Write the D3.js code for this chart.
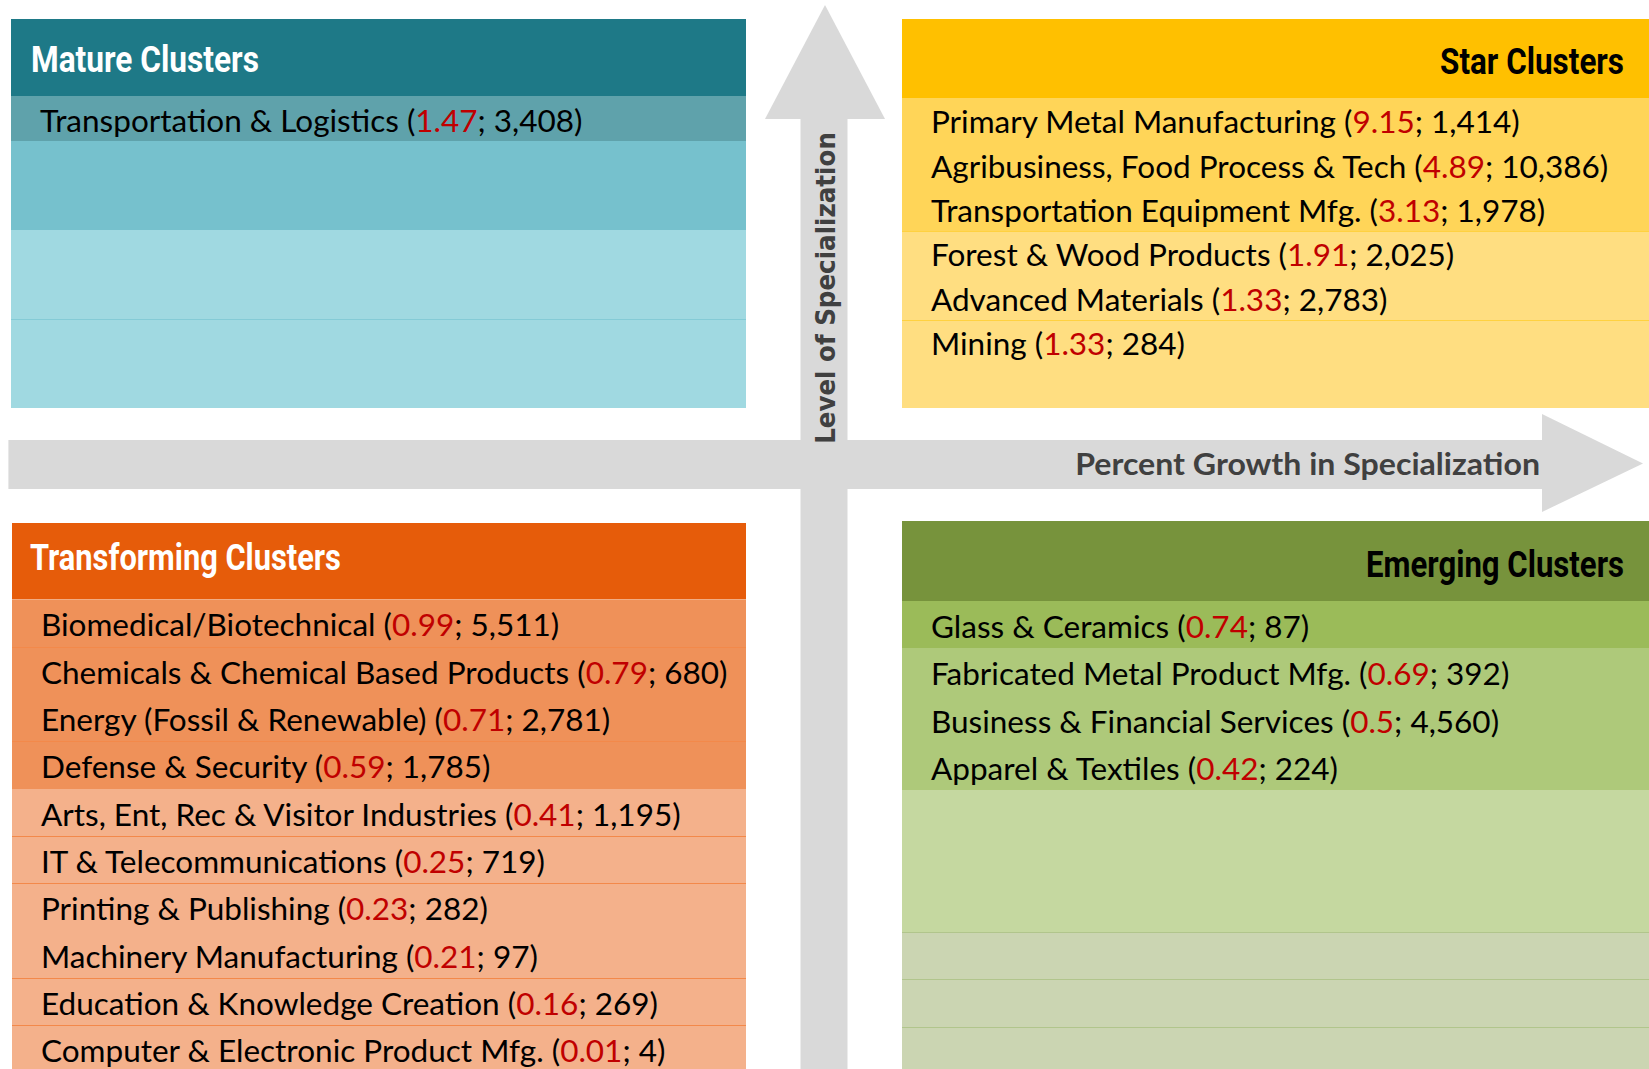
<!DOCTYPE html>
<html>
<head>
<meta charset="utf-8">
<script src="https://cdn.jsdelivr.net/npm/d3@7"></script>
<style>
  body { margin: 0; background: #fff; }
  svg { display: block; }
</style>
</head>
<body>
<div id="chart"></div>
<script>

/* data: cluster name, growth in specialization (red), jobs */
var matureNames = ["Transportation & Logistics"];
var matureLQ    = [1.47];
var matureJobs  = [3408];

var starNames = ["Primary Metal Manufacturing", "Agribusiness, Food Process & Tech", "Transportation Equipment Mfg.",
                 "Forest & Wood Products", "Advanced Materials", "Mining"];
var starLQ    = [9.15, 4.89, 3.13, 1.91, 1.33, 1.33];
var starJobs  = [1414, 10386, 1978, 2025, 2783, 284];

var transformingNames = ["Biomedical/Biotechnical", "Chemicals & Chemical Based Products", "Energy (Fossil & Renewable)",
                         "Defense & Security", "Arts, Ent, Rec & Visitor Industries", "IT & Telecommunications",
                         "Printing & Publishing", "Machinery Manufacturing", "Education & Knowledge Creation",
                         "Computer & Electronic Product Mfg."];
var transformingLQ    = [0.99, 0.79, 0.71, 0.59, 0.41, 0.25, 0.23, 0.21, 0.16, 0.01];
var transformingJobs  = [5511, 680, 2781, 1785, 1195, 719, 282, 97, 269, 4];

var emergingNames = ["Glass & Ceramics", "Fabricated Metal Product Mfg.", "Business & Financial Services", "Apparel & Textiles"];
var emergingLQ    = [0.74, 0.69, 0.5, 0.42];
var emergingJobs  = [87, 392, 4560, 224];

var axisLabels = ["Level of Specialization", "Percent Growth in Specialization"];

var width = 1649,
    height = 1069,
    arrowColor = "#d9d9d9",
    bodyFont = "Lato, 'Open Sans', sans-serif",
    bodySize = 31.5;

var svg = d3.select("#chart").append("svg")
    .attr("width", width)
    .attr("height", height);

/* squeeze a text horizontally so it looks like a condensed face */
function condense(sel, x, y, targetW, anchor) {
    var w = sel.node().getComputedTextLength(),
        k = targetW / w;
    sel.attr("x", 0).attr("y", 0)
       .attr("transform", "translate(" + x + "," + y + ") scale(" + k + ",1)");
}

/* arrows */
var xArrow = d3.scaleLinear().domain([0, 1]).range([8.4, 1643]),
    yArrow = d3.scaleLinear().domain([0, 1]).range([5, 1069]);

svg.append("rect")
    .attr("x", xArrow(0)).attr("y", 440)
    .attr("width", 1542 - xArrow(0)).attr("height", 49)
    .attr("fill", arrowColor);
svg.append("path")
    .attr("d", "M1542,414 L" + xArrow(1) + ",463.5 L1542,512 Z")
    .attr("fill", arrowColor);

svg.append("rect")
    .attr("x", 800.5).attr("y", 118)
    .attr("width", 47).attr("height", yArrow(1) - 118)
    .attr("fill", arrowColor);
svg.append("path")
    .attr("d", "M765,119 L825,5 L885,119 Z")
    .attr("fill", arrowColor);

var vLabel = svg.append("text")
    .attr("text-anchor", "middle")
    .attr("dy", "0.36em")
    .attr("font-family", "'DejaVu Sans', Verdana, sans-serif")
    .attr("font-weight", "bold")
    .attr("font-size", 27)
    .attr("fill", "#404040")
    .text(axisLabels[0]);
var vw = vLabel.node().getComputedTextLength();
vLabel.attr("transform", "translate(825,288) rotate(-90) scale(" + (312 / vw) + ",1)");

var hLabel = svg.append("text")
    .attr("text-anchor", "end")
    .attr("dy", "0.36em")
    .attr("font-family", bodyFont)
    .attr("font-weight", "bold")
    .attr("font-size", 30)
    .attr("fill", "#404040")
    .text(axisLabels[1]);
condense(hLabel, 1540, 464, 465);

/* quadrant panels */
var quadrants = [
    { title: "Mature Clusters", names: matureNames, lq: matureLQ, jobs: matureJobs,
      x0: 11, x1: 746, y0: 19, headerH: 77, rowH: 44.6, rows: 7,
      header: "#1e7987", titleColor: "#fff", anchor: "start", titleX: 31, titleDy: 1, titleW: 228,
      shades: ["#5fa2ab", "#76c1cd", "#76c1cd", "#a0d9e1", "#a0d9e1", "#a0d9e1", "#a0d9e1"],
      lines: [5], lineColor: "#84cbd6" },
    { title: "Star Clusters", names: starNames, lq: starLQ, jobs: starJobs,
      x0: 902, x1: 1649, y0: 19, headerH: 79, rowH: 44.3, rows: 7,
      header: "#ffc000", titleColor: "#000", anchor: "end", titleX: 1624, titleDy: 2, titleW: 184,
      shades: ["#ffd558", "#ffd558", "#ffd558", "#ffde81", "#ffde81", "#ffde81", "#ffde81"],
      lines: [3, 5], lineColor: "#ffd140" },
    { title: "Transforming Clusters", names: transformingNames, lq: transformingLQ, jobs: transformingJobs,
      x0: 12, x1: 746, y0: 523, headerH: 76.5, rowH: 47.3, rows: 10,
      header: "#e65c0a", titleColor: "#fff", anchor: "start", titleX: 30, titleDy: -5, titleW: 311,
      shades: ["#ef9159", "#ef9159", "#ef9159", "#ef9159", "#f4b18b", "#f4b18b", "#f4b18b", "#f4b18b", "#f4b18b", "#f4b18b"],
      lines: [1, 3, 5, 6, 8, 9], lineColor: "#f3894a" },
    { title: "Emerging Clusters", names: emergingNames, lq: emergingLQ, jobs: emergingJobs,
      x0: 902, x1: 1649, y0: 521, headerH: 80, rowH: 47.3, rows: 10,
      header: "#77933c", titleColor: "#000", anchor: "end", titleX: 1624, titleDy: 3, titleW: 258,
      shades: ["#9bbb59", "#aec97a", "#aec97a", "#aec97a", "#c5d8a0", "#c5d8a0", "#c5d8a0", "#cbd5b2", "#cbd5b2", "#cbd5b2"],
      lines: [7, 8, 9], lineColor: "#b1c58c" }
];

var fmt = d3.format(",");

quadrants.forEach(function(q) {
    var g = svg.append("g");
    var rowTop = q.y0 + q.headerH;

    var y = d3.scaleBand()
        .domain(d3.range(q.rows + 1))
        .range([rowTop, rowTop + (q.rows + 1) * q.rowH]);

    /* header */
    g.append("rect")
        .attr("x", q.x0).attr("y", q.y0)
        .attr("width", q.x1 - q.x0).attr("height", q.headerH)
        .attr("fill", q.header);

    var t = g.append("text")
        .attr("dy", "0.36em")
        .attr("text-anchor", q.anchor)
        .attr("font-family", "Roboto, 'Liberation Sans', sans-serif")
        .attr("font-weight", "bold")
        .attr("font-size", 37)
        .attr("fill", q.titleColor)
        .text(q.title);
    condense(t, q.titleX, q.y0 + q.headerH / 2 + q.titleDy, q.titleW);

    /* row shading */
    g.selectAll("rect.row")
        .data(d3.range(q.rows))
        .enter().append("rect")
            .attr("class", "row")
            .attr("shape-rendering", "crispEdges")
            .attr("x", q.x0)
            .attr("y", function(d) { return Math.round(y(d)); })
            .attr("width", q.x1 - q.x0)
            .attr("height", function(d) { return Math.round(y(d + 1)) - Math.round(y(d)); })
            .attr("fill", function(d) { return q.shades[d]; });

    g.selectAll("line.sep")
        .data(q.lines)
        .enter().append("line")
            .attr("class", "sep")
            .attr("x1", q.x0).attr("x2", q.x1)
            .attr("y1", function(d) { return Math.round(y(d)) + 0.5; })
            .attr("y2", function(d) { return Math.round(y(d)) + 0.5; })
            .attr("stroke", q.lineColor)
            .attr("stroke-width", 1);

    /* cluster labels */
    var label = g.selectAll("text.item")
        .data(q.names)
        .enter().append("text")
            .attr("class", "item")
            .attr("x", q.x0 + 29)
            .attr("y", function(d, i) { return y(i) + y.bandwidth() / 2 + 2; })
            .attr("dy", "0.36em")
            .attr("font-family", bodyFont)
            .attr("font-size", bodySize)
            .attr("fill", "#000");

    label.append("tspan").text(function(d) { return d + " ("; });
    label.append("tspan")
        .attr("fill", "#c00000")
        .text(function(d, i) { return String(q.lq[i]); });
    label.append("tspan").text(function(d, i) { return "; " + fmt(q.jobs[i]) + ")"; });
});

</script>
</body>
</html>
